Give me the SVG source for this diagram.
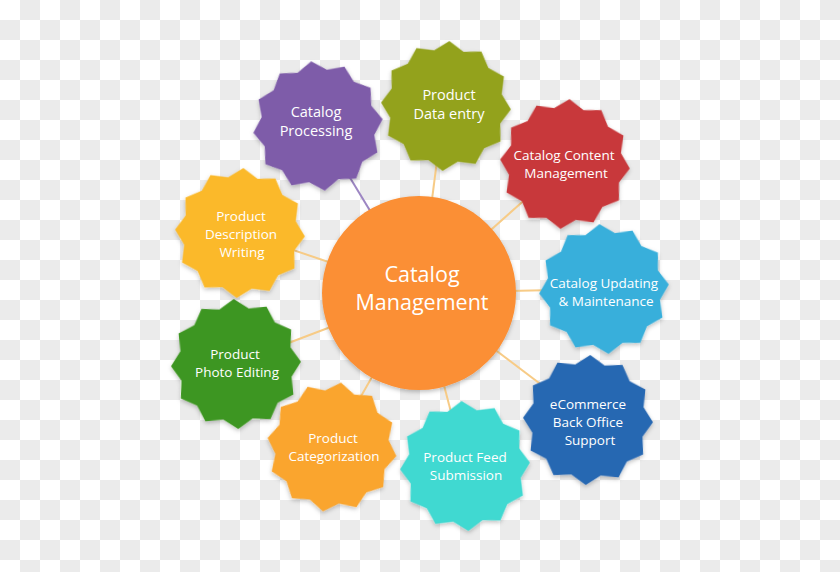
<svg xmlns="http://www.w3.org/2000/svg" xmlns:xlink="http://www.w3.org/1999/xlink" width="840" height="572" viewBox="0 0 840 572">
<defs>
<pattern id="checker" x="0" y="0" width="40" height="40" patternUnits="userSpaceOnUse">
<rect width="40" height="40" fill="#ffffff"/>
<rect x="20" y="0" width="20" height="20" fill="#ebebeb"/>
<rect x="0" y="20" width="20" height="20" fill="#ebebeb"/>
</pattern>
<filter id="sh" x="-20%" y="-20%" width="140%" height="140%">
<feDropShadow dx="0" dy="2" stdDeviation="2" flood-color="#000" flood-opacity="0.25"/>
</filter>
<polygon id="star" points="0,-65 14.75,-55.06 32.5,-56.29 40.31,-40.31 56.29,-32.5 55.06,-14.75 65,0 55.06,14.75 56.29,32.5 40.31,40.31 32.5,56.29 14.75,55.06 0,65 -14.75,55.06 -32.5,56.29 -40.31,40.31 -56.29,32.5 -55.06,14.75 -65,0 -55.06,-14.75 -56.29,-32.5 -40.31,-40.31 -32.5,-56.29 -14.75,-55.06"/>
</defs>
<style>
.lbl{font-family:"Open Sans","Lato","DejaVu Sans",sans-serif;fill:#ffffff;text-anchor:middle;font-size:13.5px}
.big{font-size:14.5px}
.ctr{font-size:21.5px}
.conn line{stroke:#f7cb86;stroke-width:2}
.node use{filter:url(#sh)}
</style>
<rect width="840" height="572" fill="url(#checker)"/>
<g id="connectors" class="conn">
<line x1="420" y1="293" x2="318" y2="125" style="stroke:#9d86c3"/>
<line x1="420" y1="293" x2="444" y2="106"/>
<line x1="420" y1="293" x2="565" y2="164"/>
<line x1="420" y1="293" x2="604" y2="289"/>
<line x1="420" y1="293" x2="588" y2="420"/>
<line x1="420" y1="293" x2="465" y2="466"/>
<line x1="420" y1="293" x2="332" y2="447"/>
<line x1="420" y1="293" x2="236" y2="363"/>
<line x1="420" y1="293" x2="240" y2="232"/>
</g>
<g id="center" class="node">
<circle cx="419" cy="293" r="97" fill="#fb8f34" filter="url(#sh)"/>
<text class="lbl ctr" x="422" y="282">Catalog</text>
<text class="lbl ctr" x="422" y="310">Management</text>
</g>
<g id="catalog-processing" class="node">
<use xlink:href="#star" href="#star" transform="translate(318,126) rotate(-6)" fill="#7e5ba9"/>
<text class="lbl big" x="316" y="117">Catalog</text>
<text class="lbl big" x="316" y="136">Processing</text>
</g>
<g id="product-data-entry" class="node">
<use xlink:href="#star" href="#star" transform="translate(446,106) rotate(3)" fill="#93a21c"/>
<text class="lbl big" x="449" y="100">Product</text>
<text class="lbl big" x="449" y="119">Data entry</text>
</g>
<g id="catalog-content-management" class="node">
<use xlink:href="#star" href="#star" transform="translate(565,164) rotate(4)" fill="#c8393b"/>
<text class="lbl" x="564" y="160">Catalog Content</text>
<text class="lbl" x="566" y="178">Management</text>
</g>
<g id="catalog-updating" class="node">
<use xlink:href="#star" href="#star" transform="translate(604,289) rotate(-4)" fill="#37afdb"/>
<text class="lbl" x="604" y="288">Catalog Updating</text>
<text class="lbl" x="606" y="306">&amp; Maintenance</text>
</g>
<g id="ecommerce-back-office" class="node">
<use xlink:href="#star" href="#star" transform="translate(588,420) rotate(2)" fill="#2767b2"/>
<text class="lbl" x="588" y="409">eCommerce</text>
<text class="lbl" x="588" y="427">Back Office</text>
<text class="lbl" x="590" y="445">Support</text>
</g>
<g id="product-feed-submission" class="node">
<use xlink:href="#star" href="#star" transform="translate(465,466) rotate(-3)" fill="#3fd9d1"/>
<text class="lbl" x="465" y="462">Product Feed</text>
<text class="lbl" x="466" y="480">Submission</text>
</g>
<g id="product-categorization" class="node">
<use xlink:href="#star" href="#star" transform="translate(332,447) rotate(8)" fill="#faa52d"/>
<text class="lbl" x="333" y="443">Product</text>
<text class="lbl" x="334" y="461">Categorization</text>
</g>
<g id="product-photo-editing" class="node">
<use xlink:href="#star" href="#star" transform="translate(236,364) rotate(-2)" fill="#3e9620"/>
<text class="lbl" x="235" y="359">Product</text>
<text class="lbl" x="237" y="377">Photo Editing</text>
</g>
<g id="product-description-writing" class="node">
<use xlink:href="#star" href="#star" transform="translate(240,233) rotate(3)" fill="#fbb92b"/>
<text class="lbl" x="241" y="221">Product</text>
<text class="lbl" x="241" y="239">Description</text>
<text class="lbl" x="242" y="257">Writing</text>
</g>
</svg>
